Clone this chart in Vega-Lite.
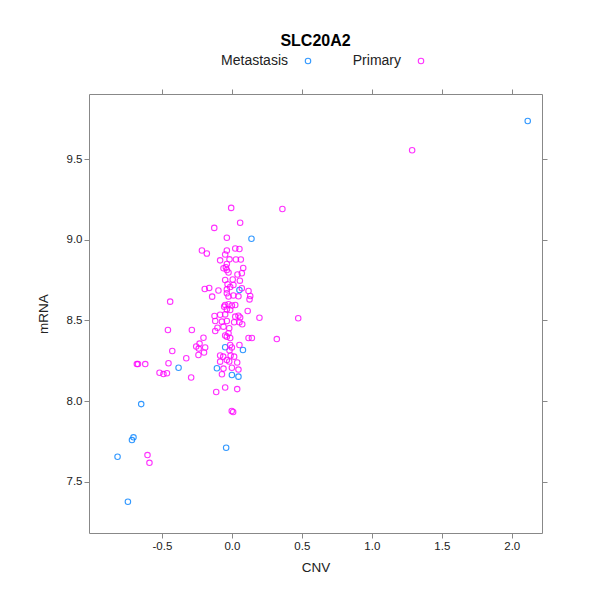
{
  "$schema": "https://vega.github.io/schema/vega-lite/v6.json",
  "autosize": {"type": "none"},
  "padding": {"left": 89, "top": 94, "right": 49, "bottom": 67},
  "width": 453,
  "height": 439,
  "background": "white",
  "title": {"text": "SLC20A2", "font": "Liberation Sans", "fontSize": 16, "fontWeight": "bold", "color": "#000000", "anchor": "middle", "offset": 5},
  "data": {"values": [
    {"group": "Metastasis", "CNV": 2.114, "mRNA": 9.736},
    {"group": "Metastasis", "CNV": 0.140, "mRNA": 9.006},
    {"group": "Metastasis", "CNV": 0.054, "mRNA": 8.688},
    {"group": "Metastasis", "CNV": -0.048, "mRNA": 8.333},
    {"group": "Metastasis", "CNV": 0.079, "mRNA": 8.316},
    {"group": "Metastasis", "CNV": -0.381, "mRNA": 8.206},
    {"group": "Metastasis", "CNV": -0.107, "mRNA": 8.203},
    {"group": "Metastasis", "CNV": 0.000, "mRNA": 8.161},
    {"group": "Metastasis", "CNV": 0.047, "mRNA": 8.151},
    {"group": "Metastasis", "CNV": -0.648, "mRNA": 7.981},
    {"group": "Metastasis", "CNV": -0.703, "mRNA": 7.775},
    {"group": "Metastasis", "CNV": -0.714, "mRNA": 7.758},
    {"group": "Metastasis", "CNV": -0.817, "mRNA": 7.655},
    {"group": "Metastasis", "CNV": -0.743, "mRNA": 7.376},
    {"group": "Metastasis", "CNV": -0.041, "mRNA": 7.710},
    {"group": "Primary", "CNV": 1.288, "mRNA": 9.554},
    {"group": "Primary", "CNV": 0.361, "mRNA": 9.190},
    {"group": "Primary", "CNV": -0.005, "mRNA": 9.197},
    {"group": "Primary", "CNV": 0.059, "mRNA": 9.105},
    {"group": "Primary", "CNV": -0.126, "mRNA": 9.073},
    {"group": "Primary", "CNV": -0.036, "mRNA": 9.012},
    {"group": "Primary", "CNV": -0.214, "mRNA": 8.933},
    {"group": "Primary", "CNV": -0.179, "mRNA": 8.914},
    {"group": "Primary", "CNV": 0.024, "mRNA": 8.945},
    {"group": "Primary", "CNV": 0.054, "mRNA": 8.942},
    {"group": "Primary", "CNV": -0.036, "mRNA": 8.933},
    {"group": "Primary", "CNV": -0.048, "mRNA": 8.908},
    {"group": "Primary", "CNV": -0.084, "mRNA": 8.872},
    {"group": "Primary", "CNV": -0.017, "mRNA": 8.878},
    {"group": "Primary", "CNV": 0.029, "mRNA": 8.877},
    {"group": "Primary", "CNV": 0.064, "mRNA": 8.877},
    {"group": "Primary", "CNV": -0.036, "mRNA": 8.849},
    {"group": "Primary", "CNV": -0.060, "mRNA": 8.823},
    {"group": "Primary", "CNV": -0.043, "mRNA": 8.829},
    {"group": "Primary", "CNV": -0.036, "mRNA": 8.812},
    {"group": "Primary", "CNV": 0.081, "mRNA": 8.825},
    {"group": "Primary", "CNV": -0.024, "mRNA": 8.797},
    {"group": "Primary", "CNV": 0.040, "mRNA": 8.784},
    {"group": "Primary", "CNV": 0.071, "mRNA": 8.792},
    {"group": "Primary", "CNV": -0.048, "mRNA": 8.750},
    {"group": "Primary", "CNV": 0.006, "mRNA": 8.753},
    {"group": "Primary", "CNV": 0.057, "mRNA": 8.746},
    {"group": "Primary", "CNV": -0.031, "mRNA": 8.724},
    {"group": "Primary", "CNV": 0.011, "mRNA": 8.719},
    {"group": "Primary", "CNV": -0.012, "mRNA": 8.707},
    {"group": "Primary", "CNV": -0.194, "mRNA": 8.694},
    {"group": "Primary", "CNV": -0.162, "mRNA": 8.701},
    {"group": "Primary", "CNV": -0.096, "mRNA": 8.685},
    {"group": "Primary", "CNV": -0.036, "mRNA": 8.692},
    {"group": "Primary", "CNV": 0.071, "mRNA": 8.699},
    {"group": "Primary", "CNV": 0.119, "mRNA": 8.682},
    {"group": "Primary", "CNV": -0.141, "mRNA": 8.647},
    {"group": "Primary", "CNV": -0.036, "mRNA": 8.668},
    {"group": "Primary", "CNV": -0.024, "mRNA": 8.648},
    {"group": "Primary", "CNV": 0.011, "mRNA": 8.654},
    {"group": "Primary", "CNV": 0.047, "mRNA": 8.649},
    {"group": "Primary", "CNV": 0.131, "mRNA": 8.651},
    {"group": "Primary", "CNV": 0.126, "mRNA": 8.630},
    {"group": "Primary", "CNV": -0.441, "mRNA": 8.616},
    {"group": "Primary", "CNV": -0.048, "mRNA": 8.595},
    {"group": "Primary", "CNV": -0.024, "mRNA": 8.600},
    {"group": "Primary", "CNV": 0.000, "mRNA": 8.592},
    {"group": "Primary", "CNV": 0.024, "mRNA": 8.595},
    {"group": "Primary", "CNV": -0.055, "mRNA": 8.585},
    {"group": "Primary", "CNV": -0.036, "mRNA": 8.568},
    {"group": "Primary", "CNV": -0.012, "mRNA": 8.564},
    {"group": "Primary", "CNV": 0.113, "mRNA": 8.558},
    {"group": "Primary", "CNV": -0.124, "mRNA": 8.527},
    {"group": "Primary", "CNV": -0.084, "mRNA": 8.535},
    {"group": "Primary", "CNV": -0.048, "mRNA": 8.537},
    {"group": "Primary", "CNV": 0.024, "mRNA": 8.523},
    {"group": "Primary", "CNV": 0.047, "mRNA": 8.529},
    {"group": "Primary", "CNV": 0.059, "mRNA": 8.518},
    {"group": "Primary", "CNV": 0.197, "mRNA": 8.516},
    {"group": "Primary", "CNV": 0.474, "mRNA": 8.513},
    {"group": "Primary", "CNV": -0.119, "mRNA": 8.496},
    {"group": "Primary", "CNV": -0.071, "mRNA": 8.492},
    {"group": "Primary", "CNV": -0.036, "mRNA": 8.496},
    {"group": "Primary", "CNV": 0.016, "mRNA": 8.488},
    {"group": "Primary", "CNV": 0.054, "mRNA": 8.488},
    {"group": "Primary", "CNV": 0.074, "mRNA": 8.476},
    {"group": "Primary", "CNV": -0.103, "mRNA": 8.454},
    {"group": "Primary", "CNV": -0.060, "mRNA": 8.461},
    {"group": "Primary", "CNV": -0.019, "mRNA": 8.451},
    {"group": "Primary", "CNV": -0.119, "mRNA": 8.434},
    {"group": "Primary", "CNV": -0.286, "mRNA": 8.440},
    {"group": "Primary", "CNV": -0.457, "mRNA": 8.440},
    {"group": "Primary", "CNV": -0.024, "mRNA": 8.420},
    {"group": "Primary", "CNV": -0.048, "mRNA": 8.406},
    {"group": "Primary", "CNV": -0.036, "mRNA": 8.399},
    {"group": "Primary", "CNV": -0.012, "mRNA": 8.391},
    {"group": "Primary", "CNV": 0.119, "mRNA": 8.391},
    {"group": "Primary", "CNV": 0.143, "mRNA": 8.391},
    {"group": "Primary", "CNV": 0.321, "mRNA": 8.384},
    {"group": "Primary", "CNV": -0.203, "mRNA": 8.392},
    {"group": "Primary", "CNV": -0.231, "mRNA": 8.356},
    {"group": "Primary", "CNV": -0.255, "mRNA": 8.338},
    {"group": "Primary", "CNV": -0.237, "mRNA": 8.325},
    {"group": "Primary", "CNV": -0.191, "mRNA": 8.332},
    {"group": "Primary", "CNV": -0.199, "mRNA": 8.301},
    {"group": "Primary", "CNV": -0.012, "mRNA": 8.347},
    {"group": "Primary", "CNV": 0.000, "mRNA": 8.332},
    {"group": "Primary", "CNV": 0.054, "mRNA": 8.347},
    {"group": "Primary", "CNV": -0.017, "mRNA": 8.313},
    {"group": "Primary", "CNV": -0.239, "mRNA": 8.285},
    {"group": "Primary", "CNV": -0.326, "mRNA": 8.265},
    {"group": "Primary", "CNV": -0.084, "mRNA": 8.282},
    {"group": "Primary", "CNV": -0.062, "mRNA": 8.275},
    {"group": "Primary", "CNV": -0.009, "mRNA": 8.282},
    {"group": "Primary", "CNV": 0.016, "mRNA": 8.275},
    {"group": "Primary", "CNV": -0.036, "mRNA": 8.254},
    {"group": "Primary", "CNV": -0.019, "mRNA": 8.245},
    {"group": "Primary", "CNV": -0.084, "mRNA": 8.244},
    {"group": "Primary", "CNV": 0.038, "mRNA": 8.239},
    {"group": "Primary", "CNV": -0.060, "mRNA": 8.201},
    {"group": "Primary", "CNV": 0.000, "mRNA": 8.206},
    {"group": "Primary", "CNV": 0.047, "mRNA": 8.195},
    {"group": "Primary", "CNV": -0.071, "mRNA": 8.166},
    {"group": "Primary", "CNV": -0.291, "mRNA": 8.146},
    {"group": "Primary", "CNV": -0.112, "mRNA": 8.056},
    {"group": "Primary", "CNV": -0.048, "mRNA": 8.084},
    {"group": "Primary", "CNV": 0.038, "mRNA": 8.074},
    {"group": "Primary", "CNV": -0.001, "mRNA": 7.938},
    {"group": "Primary", "CNV": 0.009, "mRNA": 7.932},
    {"group": "Primary", "CNV": -0.426, "mRNA": 8.310},
    {"group": "Primary", "CNV": -0.679, "mRNA": 8.229},
    {"group": "Primary", "CNV": -0.671, "mRNA": 8.229},
    {"group": "Primary", "CNV": -0.619, "mRNA": 8.229},
    {"group": "Primary", "CNV": -0.453, "mRNA": 8.234},
    {"group": "Primary", "CNV": -0.517, "mRNA": 8.175},
    {"group": "Primary", "CNV": -0.489, "mRNA": 8.167},
    {"group": "Primary", "CNV": -0.464, "mRNA": 8.172},
    {"group": "Primary", "CNV": -0.603, "mRNA": 7.665},
    {"group": "Primary", "CNV": -0.589, "mRNA": 7.617}
  ]},
  "layer": [
    {
      "mark": {"type": "point", "shape": "circle", "filled": false, "size": 30, "strokeWidth": 1.1, "opacity": 0.8},
      "encoding": {
        "x": {"field": "CNV", "type": "quantitative", "scale": {"domain": [-1.021, 2.216], "nice": false, "zero": false},
              "axis": {"values": [-0.5, 0, 0.5, 1, 1.5, 2], "format": ".1f", "labelExpr": "replace(datum.label, '\u2212', '-')", "title": "CNV", "titlePadding": 9}},
        "y": {"field": "mRNA", "type": "quantitative", "scale": {"domain": [7.182, 9.903], "nice": false, "zero": false},
              "axis": {"values": [7.5, 8, 8.5, 9, 9.5], "format": ".1f", "title": "mRNA", "titlePadding": 16}},
        "color": {"field": "group", "type": "nominal",
                  "scale": {"domain": ["Metastasis", "Primary"], "range": ["#0080ff", "#ff00ff"]},
                  "legend": {"orient": "none", "legendX": 212, "legendY": -40, "direction": "horizontal", "columns": 2,
                             "title": null, "labelFont": "Liberation Sans", "labelFontSize": 14, "labelColor": "#222222",
                             "labelAlign": "right", "labelOffset": -27, "columnPadding": 39, "symbolSize": 30,
                             "symbolStrokeWidth": 1.1, "symbolType": "circle", "labelLimit": 300}}
      }
    },
    {
      "mark": {"type": "point", "opacity": 0},
      "encoding": {
        "x": {"field": "CNV", "type": "quantitative", "axis": {"orient": "top", "values": [-0.5, 0, 0.5, 1, 1.5, 2], "labels": false, "title": null}},
        "y": {"field": "mRNA", "type": "quantitative", "axis": {"orient": "right", "values": [7.5, 8, 8.5, 9, 9.5], "labels": false, "title": null}}
      }
    }
  ],
  "resolve": {"axis": {"x": "independent", "y": "independent"}},
  "config": {
    "view": {"stroke": "#888888", "strokeWidth": 1},
    "axis": {"domain": false, "grid": false, "tickColor": "#888888", "tickSize": 5, "labelPadding": 2,
             "labelFont": "Liberation Sans", "labelFontSize": 11.5, "labelColor": "#222222",
             "titleFont": "Liberation Sans", "titleFontSize": 13.5, "titleFontWeight": "normal", "titleColor": "#222222"}
  }
}
